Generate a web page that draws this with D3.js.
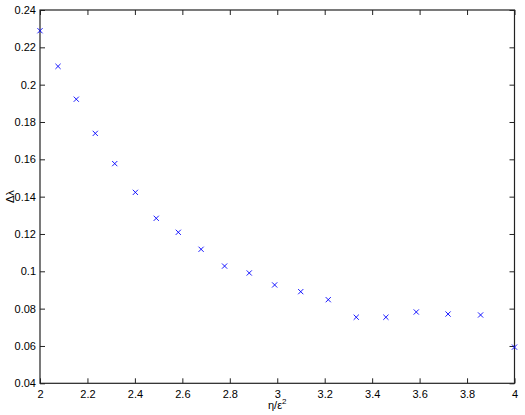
<!DOCTYPE html>
<html><head><meta charset="utf-8">
<script src="https://cdn.jsdelivr.net/npm/d3@7"></script>
<style>body{margin:0;background:#fff}svg{display:block}text{font-family:"Liberation Sans",Arial,sans-serif}</style>
</head><body><div id="chart"></div>
<script>
const xValues = [2.0, 2.076, 2.153, 2.233, 2.315, 2.402, 2.490, 2.583, 2.679, 2.778, 2.882, 2.989, 3.099, 3.215, 3.333, 3.458, 3.586, 3.720, 3.857, 4.0];
const yValues = [0.2289, 0.2098, 0.1922, 0.1739, 0.1577, 0.1423, 0.1284, 0.1209, 0.1118, 0.1028, 0.0991, 0.0927, 0.0891, 0.0848, 0.0754, 0.0754, 0.0782, 0.0771, 0.0766, 0.0594];
const xTicks = [2, 2.2, 2.4, 2.6, 2.8, 3, 3.2, 3.4, 3.6, 3.8, 4];
const yTicks = [0.04, 0.06, 0.08, 0.1, 0.12, 0.14, 0.16, 0.18, 0.2, 0.22, 0.24];
const xLabel = "η/ε";
const yLabel = "Δλ";

const W = 525, H = 415;
const mLeft = 40, mRight = 514.5, mTop = 10, mBottom = 383.3;
const svg = d3.select("#chart").append("svg").attr("width", W).attr("height", H);
const x = d3.scaleLinear().domain([2, 4]).range([mLeft, mRight]);
const y = d3.scaleLinear().domain([0.04, 0.24]).range([mBottom, mTop]);
const fmt = d => String(+d.toFixed(2));

function styleAxis(g){
  g.select(".domain").remove();
  g.selectAll(".tick line").attr("stroke", "#222").attr("stroke-width", 1);
  g.selectAll(".tick text").attr("fill", "#000").style("font-size", "11px");
}
svg.append("g").attr("transform", `translate(0,${mBottom})`)
  .call(d3.axisBottom(x).tickValues(xTicks).tickFormat(fmt).tickSizeInner(-5).tickSizeOuter(0).tickPadding(7))
  .call(styleAxis);
svg.append("g").attr("transform", `translate(0,${mTop})`)
  .call(d3.axisTop(x).tickValues(xTicks).tickFormat("").tickSizeInner(-5).tickSizeOuter(0))
  .call(styleAxis);
svg.append("g").attr("transform", `translate(${mLeft},0)`)
  .call(d3.axisLeft(y).tickValues(yTicks).tickFormat(fmt).tickSizeInner(-5).tickSizeOuter(0).tickPadding(4))
  .call(styleAxis);
svg.append("g").attr("transform", `translate(${mRight},0)`)
  .call(d3.axisRight(y).tickValues(yTicks).tickFormat("").tickSizeInner(-5).tickSizeOuter(0))
  .call(styleAxis);

svg.append("rect").attr("x", mLeft).attr("y", mTop).attr("width", mRight - mLeft).attr("height", mBottom - mTop)
  .attr("fill", "none").attr("stroke", "#222").attr("stroke-width", 1.2);

const pts = xValues.map((v, i) => [v, yValues[i]]);
const s = 2.6;
svg.append("g").selectAll("path").data(pts).join("path")
  .attr("d", d => {
    const cx = x(d[0]), cy = y(d[1]);
    return `M${cx - s},${cy - s}L${cx + s},${cy + s}M${cx - s},${cy + s}L${cx + s},${cy - s}`;
  })
  .attr("stroke", "#0000ff").attr("stroke-width", 0.9).attr("fill", "none");

const xl = svg.append("text").attr("x", (mLeft + mRight) / 2).attr("y", 409).attr("text-anchor", "middle")
  .style("font-size", "11px").text(xLabel);
xl.append("tspan").attr("dy", -5).style("font-size", "8px").text("2");
svg.append("text").attr("transform", `translate(14,${(mTop + mBottom) / 2}) rotate(-90)`)
  .attr("text-anchor", "middle").style("font-size", "11px").text(yLabel);
</script></body></html>
